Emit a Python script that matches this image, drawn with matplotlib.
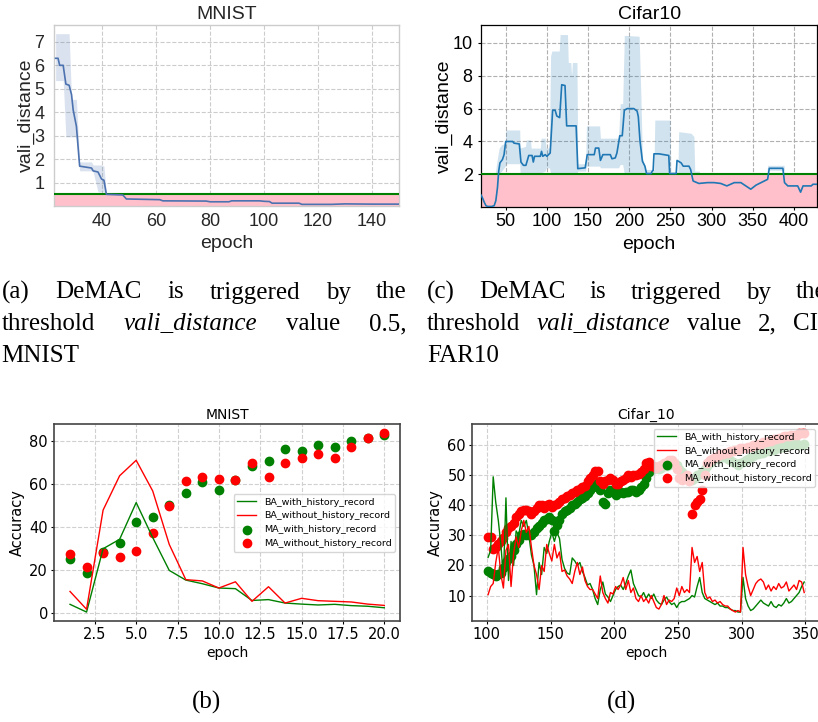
import matplotlib
matplotlib.use("Agg")
import matplotlib.pyplot as plt
from matplotlib.ticker import FormatStrFormatter

W, H = 818, 722

# ---------------- (a) MNIST vali_distance ----------------
mn_vd_epoch = [22.8, 23.7, 24.3, 25.6, 26.6, 27.8, 28.7, 29.3, 30.5, 31.7,
               36.1, 36.7, 38.5, 39.8, 40.7, 41.6, 47.7, 49, 61.4, 62.5,
               78.6, 80, 87, 88, 98.4, 100, 102, 103, 113, 114,
               125, 130, 140, 150]
mn_vd_mean = [6.3, 6.3, 6.0, 6.0, 5.2, 5.15, 4.75, 4.1, 3.4, 1.7,
              1.62, 1.5, 1.45, 1.15, 1.1, 0.5, 0.47, 0.3, 0.27, 0.22,
              0.21, 0.18, 0.18, 0.22, 0.22, 0.2, 0.19, 0.12, 0.12, 0.07,
              0.07, 0.09, 0.08, 0.08]
mn_vd_low = [5.35, 5.35, 5.35, 5.35, 2.95, 2.95, 2.95, 2.95, 2.95, 1.5,
             1.5, 1.45, 0.6, 0.6, 0.6, 0.48, 0.47, 0.3, 0.27, 0.22,
             0.21, 0.18, 0.18, 0.22, 0.22, 0.2, 0.19, 0.12, 0.12, 0.07,
             0.07, 0.09, 0.08, 0.08]
mn_vd_high = [7.35, 7.35, 7.35, 7.35, 7.35, 7.35, 4.55, 4.55, 4.55, 1.88,
              1.88, 1.75, 1.75, 1.75, 1.7, 0.52, 0.47, 0.3, 0.27, 0.22,
              0.21, 0.18, 0.18, 0.22, 0.22, 0.2, 0.19, 0.12, 0.12, 0.07,
              0.07, 0.09, 0.08, 0.08]
mn_vd_threshold = 0.5
mn_vd_xticks = [40, 60, 80, 100, 120, 140]
mn_vd_yticks = [1, 2, 3, 4, 5, 6, 7]

# ---------------- (c) Cifar10 vali_distance ----------------
cf_vd_epoch = [20, 22, 24, 26, 28, 33, 36, 38, 40, 41.5,
               43, 46, 48, 50, 58.5, 60, 66.5, 68.5, 71.5, 74.5,
               78, 82, 83.5, 85, 92, 93.5, 95, 98, 100, 102,
               104, 107, 110, 112, 115.5, 118, 122, 124, 135.5, 137.5,
               146.5, 149, 157.5, 159, 163, 165, 168, 177, 179, 183,
               185, 188.5, 191.5, 194, 197.5, 205.5, 209.5, 211, 213, 216,
               219, 221, 226.5, 228, 229, 230, 236, 248, 249, 257,
               258, 263, 265.5, 272.5, 274.5, 277.5, 284.5, 295, 303, 311,
               318.5, 327.5, 335.5, 347.5, 354, 364, 368, 370, 386.5, 388.5,
               392.5, 404.5, 408, 411, 421, 423, 428]
cf_vd_mean = [0.75, 0.55, 0.3, 0.1, 0.05, 0.05, 0.1, 0.4, 1.2, 2.2,
              2.7, 2.9, 3.2, 4.0, 4.0, 3.9, 3.85, 2.75, 2.55, 2.55,
              3.15, 3.15, 2.75, 3.1, 3.1, 3.4, 3.1, 3.2, 3.1, 3.2,
              3.3, 5.9, 5.9, 5.55, 5.45, 7.45, 7.4, 4.95, 4.95, 2.35,
              2.4, 3.2, 3.2, 3.6, 3.6, 2.85, 3.2, 3.2, 2.95, 3.0,
              3.3, 4.35, 4.35, 5.9, 6.0, 6.0, 5.85, 5.5, 4.05, 2.8,
              2.5, 2.05, 2.05, 2.2, 2.25, 3.25, 3.25, 3.15, 2.05, 2.05,
              2.85, 2.7, 2.5, 2.5, 2.3, 1.6, 1.45, 1.5, 1.5, 1.45,
              1.3, 1.5, 1.5, 1.1, 1.35, 1.6, 1.7, 2.37, 2.37, 1.5,
              1.3, 1.3, 0.92, 1.3, 1.3, 1.4, 1.4]
cf_vd_band_epoch = [20, 37, 40, 42, 45, 49.5, 50, 67, 67.5, 74,
                    75, 80, 81, 92, 93, 98, 99, 103, 104.5, 106,
                    115, 116, 125, 126, 129, 130, 131, 136.5, 137.5, 147,
                    148, 164, 165, 187, 189, 192, 194, 212, 214, 216,
                    220, 230, 231, 249.5, 250.5, 259, 260, 275, 278.5, 279.5,
                    285, 286, 367, 368, 388, 389, 428]
cf_vd_band_low = [2.0, 2.0, 2.0, 2.0, 2.2, 2.5, 2.65, 2.65, 2.1, 2.05,
                  2.05, 2.1, 2.1, 2.1, 2.1, 2.2, 2.4, 2.4, 2.1, 2.0,
                  2.0, 2.0, 2.0, 2.0, 2.0, 2.0, 2.0, 2.0, 2.2, 2.2,
                  2.5, 2.5, 2.4, 2.4, 2.6, 2.6, 2.0, 2.0, 2.0, 2.0,
                  2.0, 2.0, 2.05, 2.05, 2.0, 2.0, 2.0, 2.0, 2.0, 2.0,
                  2.0, 2.0, 2.0, 2.25, 2.25, 2.0, 2.0]
cf_vd_band_high = [2.0, 2.0, 3.0, 3.6, 3.8, 3.9, 4.7, 4.7, 3.6, 3.7,
                   4.1, 4.1, 3.6, 3.6, 4.2, 4.2, 3.6, 3.6, 9.2, 9.5,
                   9.5, 10.5, 10.5, 8.8, 8.8, 8.0, 8.8, 8.8, 2.65, 2.65,
                   4.95, 4.95, 4.2, 4.2, 6.3, 6.3, 10.45, 10.4, 7.0, 3.0,
                   2.3, 2.3, 5.3, 5.3, 2.15, 2.15, 4.6, 4.5, 4.3, 2.2,
                   2.2, 2.0, 2.0, 2.55, 2.55, 2.0, 2.0]
cf_vd_threshold = 2
cf_vd_xticks = [50, 100, 150, 200, 250, 300, 350, 400]
cf_vd_yticks = [2, 4, 6, 8, 10]

# ---------------- (b) MNIST accuracy ----------------
mn_epoch = list(range(1, 21))
mn_ba_with = [3.9, 0.3, 29.8, 34.2, 51.3, 35.0, 19.7, 15.2, 13.5, 11.5,
              11.2, 5.7, 6.1, 4.5, 4.0, 3.6, 3.9, 3.3, 3.0, 2.3]
mn_ba_without = [9.9, 1.6, 47.8, 63.8, 71.0, 56.7, 31.8, 15.4, 14.8, 11.5,
                 14.4, 5.3, 12.1, 4.5, 6.7, 5.6, 5.3, 5.0, 4.0, 3.4]
mn_ma_with = [25.2, 18.5, 28.1, 32.5, 42.1, 44.6, 50.3, 55.9, 61.0, 57.0,
              62.0, 68.3, 70.7, 76.1, 75.3, 78.3, 77.0, 80.0, 81.6, 82.8]
mn_ma_without = [27.5, 21.4, 28.0, 26.1, 28.6, 37.0, 49.9, 61.5, 63.2, 62.3,
                 62.0, 69.9, 63.2, 69.9, 72.2, 73.8, 72.2, 77.4, 81.2, 83.6]
mn_xticks = [2.5, 5.0, 7.5, 10.0, 12.5, 15.0, 17.5, 20.0]

# ---------------- (d) Cifar_10 accuracy ----------------
cf_epoch = list(range(101, 350, 2))
cf_ba_with = [22.7, 25, 49.5, 41, 35, 27, 16, 42.5, 15, 28,
              20, 31.5, 30, 35, 33, 35, 30, 23.5, 20, 10.3,
              21, 17, 26, 24, 28, 31, 28, 31, 29, 22,
              19, 17.5, 17, 22.5, 21.5, 20, 21, 18, 16, 13.5,
              14, 12, 9, 7, 12, 14.5, 10.5, 9.5, 8, 10,
              12, 13, 13.5, 12, 14, 16.5, 18.5, 14, 12, 10,
              9.5, 11, 9, 10.5, 9, 10.5, 8.5, 7.5, 7, 8.5,
              9.5, 8, 7, 7.5, 6, 7.5, 8, 8, 8.5, 9,
              10, 9.5, 13, 16, 11, 9, 8.5, 8, 7.5, 7,
              7.5, 6.5, 6.5, 6, 6, 5.5, 5, 5, 4.5, 4.5,
              16, 9, 6.5, 5, 5.5, 6.5, 7.5, 8.5, 7.5, 7,
              6.5, 8, 6.5, 6, 7, 6.5, 7.5, 9, 7.5, 8,
              9, 10, 11, 13, 14.5]
cf_ba_without = [10.3, 13, 14, 21, 26, 17, 12.5, 25, 27, 13,
                 24, 29.5, 26, 31.5, 35, 31, 33, 26, 20, 17,
                 12, 20, 18, 27, 24, 21.5, 27, 22.5, 24.5, 18,
                 18.5, 16.5, 15.5, 14, 18, 21, 17, 19.5, 15, 13,
                 12, 12, 10.5, 9, 16.5, 11, 9, 7.5, 11, 10.5,
                 13, 12, 13.5, 16, 12, 15, 11, 12.5, 9, 8,
                 10, 8, 9, 7.5, 10, 8, 6, 5.5, 7, 10,
                 7, 8.5, 8, 9, 12.5, 10, 13, 11, 12, 11,
                 26, 21, 23, 18, 21, 11, 9, 9.5, 8, 8.5,
                 7.5, 8, 7, 6.5, 6.5, 5.5, 5, 4.5, 5, 4.5,
                 26, 17, 13, 10, 12, 14, 15, 15.5, 14.5, 12,
                 13.5, 11.5, 13, 12, 14, 12.5, 13, 14.5, 11.5, 12.5,
                 13.5, 12, 15, 14.5, 11]
cf_ma_with = [18, 17.5, 17, 16.5, 17, 17.5, 19, 21, 22, 23,
              25, 27, 28.5, 30, 30.5, 30, 30, 30, 31, 32.5,
              33, 34, 35, 35.5, 36, 35, 31.5, 33.5, 35, 37,
              38, 38.5, 39, 40, 40.5, 41, 42, 42.5, 43, 44,
              45, 46, 47, 47.5, 45, 41, 40.5, 44, 45, 44.5,
              43.5, 44, 44.5, 44, 44.5, 44.5, 45, 45, 44.5, 45,
              46, 47, 49, 51, 52, 52, 52.5, 52, 52.5, 53,
              53, 53.5, 54, 54, 53.5, 52, 51, 50, 49.5, 49,
              48.5, 49, 50, 50.5, 51, 52, 53, 54, 55, 55.5,
              55.5, 56, 56, 56.5, 55.5, 55, 54.5, 54, 53.5, 54,
              54.5, 55, 55.5, 56, 56.5, 57, 57, 57.5, 57.5, 58,
              58, 58.5, 58.5, 59, 59, 59.5, 59.5, 60, 60, 60,
              60.5, 60.5, 60, 60, 60.5]
cf_ma_without = [29.5, 29.5, 25.5, 26, 27, 28, 29, 31, 32.5, 33,
                 34, 36, 37, 38, 38.5, 38.5, 38, 37, 38, 39,
                 40, 40, 39, 40, 40.5, 39.5, 40, 40.5, 41, 42,
                 42.5, 43, 43.5, 44, 44.5, 45, 45.5, 46, 46.5, 48,
                 49, 50, 51.5, 51.5, 48, 47, 48, 48.5, 49, 48.5,
                 47, 47, 48, 48.5, 49, 50, 49.5, 50, 50, 50.5,
                 51, 52, 54, 54.5, 53, 53, 52.5, 53, 53.5, 54,
                 54.5, 55, 55, 54, 52, 49, 48.5, 49.5, 50, 48,
                 37, 40, 41, 42, 45, 50, 54, 55, 55.5, 56,
                 56.5, 57, 57, 57.5, 57.5, 58, 58, 58.5, 58.5, 59,
                 59, 59, 59.5, 59.5, 60, 60, 60.5, 60.5, 61, 61,
                 61.5, 61.5, 62, 62, 62.5, 62.5, 63, 63, 63, 63.5,
                 63.5, 63.5, 64, 64, 64]
cf_xticks = [100, 150, 200, 250, 300, 350]
cf_yticks = [10, 20, 30, 40, 50, 60]

legend_labels = ["BA_with_history_record", "BA_without_history_record",
                 "MA_with_history_record", "MA_without_history_record"]

# caption text (word, italic?)
cap_a = [[("(a)", False), ("DeMAC", False), ("is", False), ("triggered", False), ("by", False), ("the", False)],
         [("threshold", False), ("vali_distance", True), ("value", False), ("0.5,", False)],
         [("MNIST", False)]]
cap_c = [[("(c)", False), ("DeMAC", False), ("is", False), ("triggered", False), ("by", False), ("the", False)],
         [("threshold", False), ("vali_distance", True), ("value", False), ("2,", False), ("CI-", False)],
         [("FAR10", False)]]


def px_axes(l, t, r, b):
    return [l / W, 1 - b / H, (r - l) / W, (b - t) / H]


SANS = "Liberation Sans"
SERIF = "Liberation Serif"

fig = plt.figure(figsize=(W / 100, H / 100), dpi=100)
fig.patch.set_facecolor("white")

# ---------- panel (a) ----------
ax = fig.add_axes(px_axes(54, 25, 399, 206))
ax.fill_between(mn_vd_epoch, mn_vd_low, mn_vd_high, color="#4c72b0", alpha=0.2, lw=0, zorder=2)
ax.axhspan(0, mn_vd_threshold, color="pink", lw=0, zorder=1)
ax.axhline(mn_vd_threshold, color="green", lw=1.5, zorder=3)
ax.plot(mn_vd_epoch, mn_vd_mean, color="#4c72b0", lw=1.2, zorder=4)
ax.set_xlim(22.2, 150)
ax.set_ylim(0, 7.72)
ax.set_xticks(mn_vd_xticks)
ax.set_yticks(mn_vd_yticks)
ax.grid(True, ls="--", color="#cccccc", lw=0.8)
ax.set_axisbelow(True)
for s in ax.spines.values():
    s.set_color("#cccccc")
    s.set_linewidth(1.0)
ax.tick_params(axis="both", length=0, labelsize=13, labelcolor="#262626", labelfontfamily=SANS)
ax.tick_params(axis="x", pad=5)
ax.tick_params(axis="y", pad=7)
ax.set_title("MNIST", fontsize=14, fontfamily=SANS, color="#262626", pad=4)
ax.set_xlabel("epoch", fontsize=14, fontfamily=SANS, color="#262626")
ax.set_ylabel("vali_distance", fontsize=14, fontfamily=SANS, color="#262626")
ax.xaxis.set_label_coords(0.5, -0.16)
ax.yaxis.set_label_coords(-0.055, 0.5)

# ---------- panel (c) ----------
ax = fig.add_axes(px_axes(481, 25, 817.3, 207.3))
ax.fill_between(cf_vd_band_epoch, cf_vd_band_low, cf_vd_band_high, color="#1f77b4", alpha=0.2, lw=0, zorder=2)
ax.axhspan(0, cf_vd_threshold, color="pink", lw=0, zorder=1)
ax.axhline(cf_vd_threshold, color="green", lw=1.5, zorder=3)
ax.plot(cf_vd_epoch, cf_vd_mean, color="#1f77b4", lw=1.2, zorder=4)
ax.set_xlim(20, 428.3)
ax.set_ylim(0, 11.08)
ax.set_xticks(cf_vd_xticks)
ax.set_yticks(cf_vd_yticks)
ax.grid(True, ls="--", color="#b0b0b0", lw=0.8)
ax.set_axisbelow(True)
for s in ax.spines.values():
    s.set_color("black")
    s.set_linewidth(0.9)
ax.tick_params(axis="both", length=2, labelsize=13, labelfontfamily=SANS)
ax.tick_params(axis="x", pad=2.3)
ax.tick_params(axis="y", pad=4)
ax.set_title("Cifar10", fontsize=14, fontfamily=SANS, pad=4)
ax.set_xlabel("epoch", fontsize=14, fontfamily=SANS)
ax.set_ylabel("vali_distance", fontsize=14, fontfamily=SANS)
ax.xaxis.set_label_coords(0.5, -0.156)
ax.yaxis.set_label_coords(-0.082, 0.5)


def acc_panel(rect, x, ba_w, ba_wo, ma_w, ma_wo, title, loc, xticks, yticks, xfmt=None):
    ax = fig.add_axes(rect)
    ax.plot(x, ba_w, color="green", lw=1.0, label=legend_labels[0])
    ax.plot(x, ba_wo, color="red", lw=1.0, label=legend_labels[1])
    ax.scatter(x, ma_w, color="green", s=36, label=legend_labels[2])
    ax.scatter(x, ma_wo, color="red", s=36, label=legend_labels[3])
    ax.set_xticks(xticks)
    if yticks is not None:
        ax.set_yticks(yticks)
    if xfmt:
        ax.xaxis.set_major_formatter(FormatStrFormatter(xfmt))
    ax.grid(True, ls="--", color="#d0d0d0", lw=0.8)
    ax.set_axisbelow(True)
    for s in ax.spines.values():
        s.set_color("#444444")
        s.set_linewidth(1.2)
    ax.tick_params(axis="both", length=2.5, labelsize=10.5)
    ax.tick_params(axis="x", pad=1.5)
    ax.tick_params(axis="y", pad=2)
    ax.set_title(title, fontsize=10, pad=3.6)
    ax.set_xlabel("epoch", fontsize=10)
    ax.set_ylabel("Accuracy", fontsize=10.5)
    ax.xaxis.set_label_coords(0.5, -0.125)
    ax.yaxis.set_label_coords(-0.085, 0.5)
    ax.legend(loc=loc, fontsize=6.8)
    return ax


acc_panel(px_axes(54.3, 424.3, 400, 621), mn_epoch, mn_ba_with, mn_ba_without,
          mn_ma_with, mn_ma_without, "MNIST", "center right", mn_xticks, None, "%.1f")
acc_panel(px_axes(472.3, 424.3, 820, 621), cf_epoch, cf_ba_with, cf_ba_without,
          cf_ma_with, cf_ma_without, "Cifar_10", "upper right", cf_xticks, cf_yticks)

# ---------- justified captions ----------
renderer = fig.canvas.get_renderer()
CAP_SIZE = 18


def justified_caption(lines, left_px, right_px, baselines):
    for i, (words, ybase) in enumerate(zip(lines, baselines)):
        texts = []
        for word, ital in words:
            t = fig.text(0, 1 - ybase / H, word, fontfamily=SERIF, fontsize=CAP_SIZE,
                         fontstyle="italic" if ital else "normal", ha="left", va="baseline")
            texts.append(t)
        widths = [t.get_window_extent(renderer).width for t in texts]
        last = i == len(lines) - 1
        if len(texts) > 1 and not last:
            gap = (right_px - left_px - sum(widths)) / (len(texts) - 1)
        else:
            gap = 6
        x = left_px
        for t, w in zip(texts, widths):
            t.set_x(x / W)
            x += w + gap


baselines = [298.5, 330.0, 361.7]
justified_caption(cap_a, 1.5, 407, baselines)
justified_caption(cap_c, 427, 826, baselines)

fig.text(207 / W, 1 - 709 / H, "(b)", fontfamily=SERIF, fontsize=CAP_SIZE, ha="center", va="baseline")
fig.text(621 / W, 1 - 709 / H, "(d)", fontfamily=SERIF, fontsize=CAP_SIZE, ha="center", va="baseline")

fig.savefig("out.png", dpi=100)
